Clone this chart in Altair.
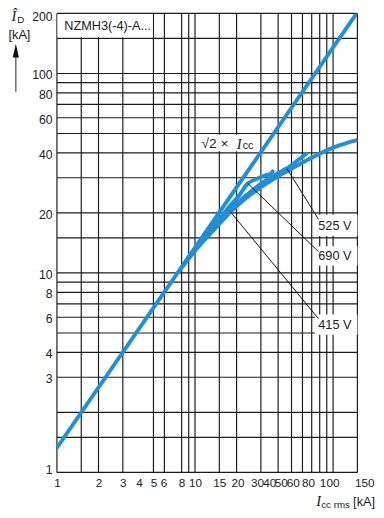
import altair as alt
import pandas as pd

# ---------------- data ----------------
grid_x = [1, 1.5, 2, 3, 5, 6, 8, 9, 10, 15, 20, 30, 40, 50, 60, 70, 80, 90, 100, 150]
grid_y = [1, 1.5, 2, 3, 4, 5, 6, 7, 8, 9, 10, 15, 20, 30, 40, 50, 60, 70, 80, 90, 100, 150, 200]
x_ticks = [1, 2, 3, 4, 5, 6, 8, 10, 15, 20, 30, 40, 50, 60, 80, 100, 150]
y_ticks = [1, 3, 4, 6, 8, 10, 20, 40, 60, 80, 100, 200]

line_x = [1, 148]
line_y = [1.33, 200]
v415_x = [8, 10, 12, 15, 18, 20, 25, 30, 40, 50, 65, 80, 100, 125, 150]
v415_y = [10.6, 12.9, 14.9, 17.6, 20.2, 21.6, 24.6, 26.9, 30.5, 33.3, 36.8, 39.6, 42.5, 44.8, 46.3]
v525_x = [9, 12, 15, 20, 25, 30, 35, 40, 46, 55, 64]
v525_y = [12, 15.3, 18.2, 22.3, 25.4, 28, 30, 31.7, 33.4, 36.5, 39.6]
v690_x = [9, 11, 13, 15, 18, 21, 24, 28, 32, 35, 36.5]
v690_y = [12, 14.4, 16.5, 18.6, 21.8, 24.6, 28, 29.6, 30.8, 31.3, 32.3]

labels = ["525 V", "690 V", "415 V"]
label_x = [103, 103, 103]
label_y = [17.1, 12.15, 5.5]
box_x1 = [74, 74, 74]
box_x2 = [150, 150, 150]
box_y1 = [15.3, 10.9, 4.9]
box_y2 = [19.6, 13.6, 6.2]
lead_x1 = [46.4, 24.1, 17.9]
lead_y1 = [33.3, 28.1, 20.4]
lead_x2 = [78.3, 78.3, 78.3]
lead_y2 = [18.6, 12.8, 5.9]

title_box = dict(x1=1.01, x2=4.93, y1=152, y2=198.5)
title_pos = dict(x=2.33, y=172.5, t="NZMH3(-4)-A...")
sqrt_box = dict(x1=10.4, x2=29.4, y1=40.7, y2=49.3)
sqrt_pos = dict(x=11.15, y=44.5)

FONT = "Liberation Sans Narrow, Liberation Sans, Arial Narrow, sans-serif"
BLUE = "#1e8fd9"
GRID = "#1c1c1c"
TXT = "#222222"

xs = alt.Scale(type="log", domain=[1, 150], nice=False)
ys = alt.Scale(type="log", domain=[1, 200], nice=False)

x_off = {
    "condition": [
        {"test": "datum.value == 4", "value": -1},
        {"test": "datum.value == 6", "value": -1},
        {"test": "datum.value == 20", "value": 1},
        {"test": "datum.value == 30", "value": -4},
        {"test": "datum.value == 40", "value": -9},
        {"test": "datum.value == 50", "value": -11},
        {"test": "datum.value == 60", "value": -10},
        {"test": "datum.value == 80", "value": -12},
        {"test": "datum.value == 100", "value": -4},
        {"test": "datum.value == 150", "value": 7},
    ],
    "value": 0,
}
y_off = {
    "condition": [
        {"test": "datum.value == 200", "value": 3},
        {"test": "datum.value == 1", "value": -3},
    ],
    "value": 1.5,
}

xaxis = alt.Axis(values=x_ticks, grid=False, ticks=False, domain=False, format="d",
                 labelFont=FONT, labelFontSize=12, labelColor=TXT, labelPadding=5,
                 labelOverlap=False, labelFlush=False, labelBound=False,
                 labelOffset=x_off, title=None)
yaxis = alt.Axis(values=y_ticks, grid=False, ticks=False, domain=False, format="d",
                 labelFont=FONT, labelFontSize=12.5, labelColor=TXT, labelPadding=5,
                 labelOverlap=False, labelFlush=False, labelBound=False,
                 labelOffset=y_off, title=None)


def X(f):
    return alt.X(f, type="quantitative", scale=xs, axis=xaxis)


def Y(f):
    return alt.Y(f, type="quantitative", scale=ys, axis=yaxis)


vgrid = alt.Chart(pd.DataFrame({"x": grid_x})).mark_rule(color=GRID, strokeWidth=1.2).encode(x=X("x"))
hgrid = alt.Chart(pd.DataFrame({"y": grid_y})).mark_rule(color=GRID, strokeWidth=1.2).encode(y=Y("y"))

boxes_df = pd.DataFrame({
    "x1": box_x1 + [title_box["x1"], sqrt_box["x1"]],
    "x2": box_x2 + [title_box["x2"], sqrt_box["x2"]],
    "y1": box_y1 + [title_box["y1"], sqrt_box["y1"]],
    "y2": box_y2 + [title_box["y2"], sqrt_box["y2"]],
})
boxes = alt.Chart(boxes_df).mark_rect(fill="white").encode(
    x=X("x1"), x2="x2:Q", y=Y("y1"), y2="y2:Q")

rows = []
for name, xv, yv in [("sqrt2", line_x, line_y), ("415", v415_x, v415_y),
                     ("525", v525_x, v525_y), ("690", v690_x, v690_y)]:
    for i, (a, b) in enumerate(zip(xv, yv)):
        rows.append({"s": name, "x": a, "y": b, "i": i})
curves_df = pd.DataFrame(rows)
curves = alt.Chart(curves_df).mark_line(color=BLUE, strokeWidth=4, strokeCap="round",
                                        strokeJoin="round", interpolate="monotone", clip=True).encode(
    x=X("x"), y=Y("y"), detail="s:N", order="i:Q")

leads = alt.Chart(pd.DataFrame({"x1": lead_x1, "y1": lead_y1, "x2": lead_x2, "y2": lead_y2})).mark_rule(
    color="#111", strokeWidth=1).encode(x=X("x1"), x2="x2:Q", y=Y("y1"), y2="y2:Q")

lab = alt.Chart(pd.DataFrame({"x": label_x, "y": label_y, "t": labels})).mark_text(
    font=FONT, fontSize=13, color=TXT, align="center", baseline="middle").encode(
    x=X("x"), y=Y("y"), text="t:N")

ttl = alt.Chart(pd.DataFrame([title_pos])).mark_text(
    font=FONT, fontSize=13, color=TXT, align="center", baseline="middle").encode(
    x=X("x"), y=Y("y"), text="t:N")

sq_df = pd.DataFrame([sqrt_pos])
sq1 = alt.Chart(sq_df).mark_text(text="√2 ×", font=FONT, fontSize=14, color=TXT,
                                 align="left", baseline="middle").encode(x=X("x"), y=Y("y"))
sq2 = alt.Chart(sq_df).mark_text(text="I", font="Liberation Serif", fontStyle="italic", fontSize=15,
                                 color=TXT, align="left", baseline="middle", dx=36).encode(x=X("x"), y=Y("y"))
sq3 = alt.Chart(sq_df).mark_text(text="cc", font=FONT, fontSize=11, color=TXT,
                                 align="left", baseline="middle", dx=42, dy=3).encode(x=X("x"), y=Y("y"))

one = pd.DataFrame({"k": [0]})
# y-axis title decorations (pixel positions relative to the plot origin)
yt1 = alt.Chart(one).mark_text(text="Î", font="Liberation Serif", fontStyle="italic", fontSize=15,
                               color=TXT, align="center", baseline="alphabetic").encode(
    x=alt.value(-44), y=alt.value(8))
yt2 = alt.Chart(one).mark_text(text="D", font=FONT, fontSize=10, color=TXT,
                               align="left", baseline="alphabetic").encode(
    x=alt.value(-40.5), y=alt.value(10))
yt3 = alt.Chart(one).mark_text(text="[kA]", font=FONT, fontSize=13, color=TXT,
                               align="left", baseline="alphabetic").encode(
    x=alt.value(-49.5), y=alt.value(26))
arrow_shaft = alt.Chart(one).mark_rule(color="#555", strokeWidth=1.3).encode(
    x=alt.value(-42), y=alt.value(40), y2=alt.value(80))
arrow_head = alt.Chart(one).mark_point(shape="M0,-1L0.45,1L-0.45,1Z", filled=True, color="#111",
                                       size=196, opacity=1).encode(
    x=alt.value(-42), y=alt.value(38))
# x-axis title
xt1 = alt.Chart(one).mark_text(text="I", font="Liberation Serif", fontStyle="italic", fontSize=15,
                               color=TXT, align="right", baseline="alphabetic").encode(
    x=alt.value(270), y=alt.value(503))
xt2 = alt.Chart(one).mark_text(text="cc rms", font=FONT, fontSize=10, color=TXT,
                               align="left", baseline="alphabetic").encode(
    x=alt.value(270), y=alt.value(505))
xt3 = alt.Chart(one).mark_text(text="[kA]", font=FONT, fontSize=13, color=TXT,
                               align="right", baseline="alphabetic").encode(
    x=alt.value(325), y=alt.value(503))

chart = alt.layer(
    vgrid, hgrid, boxes, curves, leads, lab, ttl, sq1, sq2, sq3,
    yt1, yt2, yt3, arrow_shaft, arrow_head, xt1, xt2, xt3
).properties(
    width=307, height=469,
    padding={"left": 50, "top": 0, "right": 19, "bottom": 41},
    autosize=alt.AutoSizeParams(type="none"),
).configure_view(stroke=None)

chart.save("out.html", embed_options={"renderer": "svg", "actions": False})
